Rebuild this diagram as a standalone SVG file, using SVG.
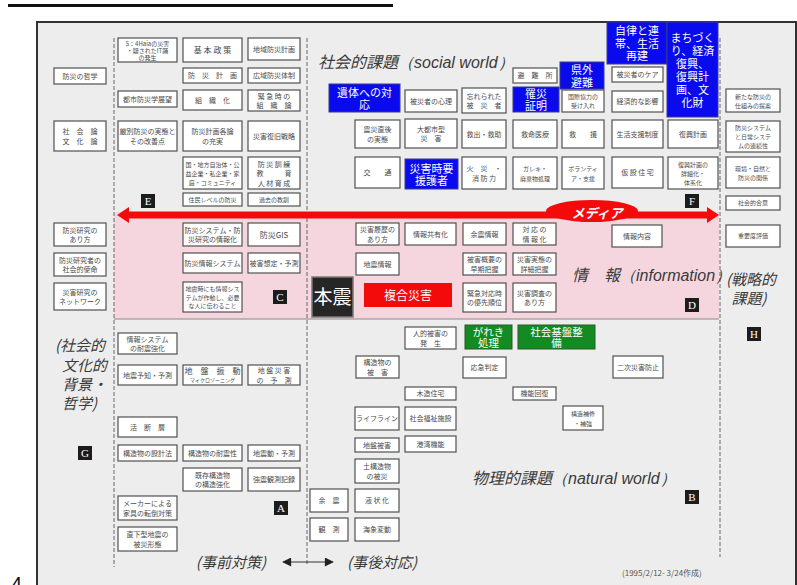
<svg xmlns="http://www.w3.org/2000/svg" width="797" height="585" viewBox="0 0 797 585">
<style>
.b{fill:#fff;stroke:#505050;stroke-width:1.2}
.t{font-family:"Noto Sans CJK JP",sans-serif;font-size:7px;fill:#4a4a4a;text-anchor:middle}
.s{font-size:6px}
.m{font-size:8px}
.bl{fill:#0a0aee;stroke:#3a3a8a;stroke-width:1}
.gr{fill:#138a22;stroke:#2a5a2a;stroke-width:1}
.w{font-family:"Noto Sans CJK JP",sans-serif;font-size:11px;fill:#fff;text-anchor:middle}
.lb{fill:#1c1c1c}
.lt{font-family:"Liberation Serif",serif;font-size:11px;fill:#fff;text-anchor:middle}
.ti{font-family:"Noto Sans CJK JP",sans-serif;font-size:16px;font-style:italic;fill:#3a3a3a}
.en{font-family:"Liberation Sans",sans-serif;font-style:italic}
.dl{stroke:#666;stroke-width:1;stroke-dasharray:4 2;fill:none}
</style>
<defs>
<marker id="ah" viewBox="0 0 10 10" refX="9" refY="5" markerWidth="11" markerHeight="9" markerUnits="userSpaceOnUse" orient="auto-start-reverse"><path d="M0,0L10,5L0,10z" fill="#222"/></marker>
</defs>
<rect x="0" y="0" width="797" height="585" fill="#fff"/>
<rect x="8" y="4" width="385" height="3" fill="#111"/>
<rect x="37" y="22" width="759" height="575" fill="#ededed" stroke="#333" stroke-width="2"/>
<rect x="114" y="212" width="605" height="107" fill="#f6d6de"/>
<line x1="114" y1="319" x2="719" y2="319" stroke="#8a8a8a" stroke-width="1.2"/>
<line class="dl" x1="114" y1="38" x2="114" y2="567"/>
<line class="dl" x1="307" y1="38" x2="307" y2="566"/>
<line class="dl" x1="720" y1="38" x2="720" y2="557"/>
<text x="11" y="591" font-family="Liberation Sans,sans-serif" font-size="20" fill="#111">4</text>

<text class="ti" x="318" y="68">社会的課題<tspan class="en">（social world）</tspan></text>
<text class="ti" x="572" y="281">情　報<tspan class="en">（information）</tspan></text>
<text class="ti" x="472" y="484">物理的課題<tspan class="en">（natural world）</tspan></text>
<text class="ti" style="font-size:15px;text-anchor:middle"><tspan x="751" y="285">(戦略的</tspan><tspan x="749" y="304">課題)</tspan></text>
<text class="ti" style="font-size:15px"><tspan x="55" y="351">(社会的</tspan><tspan x="62" y="371">文化的</tspan><tspan x="62" y="390">背景・</tspan><tspan x="62" y="409">哲学)</tspan></text>
<text class="ti" style="font-size:15px;text-anchor:end" x="266" y="568">(事前対策)</text>
<text class="ti" style="font-size:15px" x="347" y="568">(事後対応)</text>
<text x="622" y="576" font-family="Noto Sans CJK JP,sans-serif" font-size="8" fill="#555">(1995/2/12- 3/24作成)</text>

<g id="connectors">
<path d="M117,215 L129,207 L129,211.5 L707,211.5 L707,207 L719,215 L707,223 L707,218.5 L129,218.5 L129,223 Z" fill="#f30a0a"/>
<ellipse cx="592" cy="211" rx="46" ry="11" fill="#f30a0a"/>
<text x="597" y="218" font-family="Noto Sans CJK JP,sans-serif" font-size="13" font-weight="bold" font-style="italic" fill="#fff" text-anchor="middle">メディア</text>
<line x1="283" y1="562" x2="333" y2="562" stroke="#333" stroke-width="1" marker-start="url(#ah)" marker-end="url(#ah)"/>
</g>

<!-- left column -->
<g id="n1"><rect class="b" x="54" y="68" width="52" height="16"/><text class="t" x="80" y="78.7">防災の哲学</text></g>
<g id="n2"><rect class="b" x="54" y="121" width="52" height="30"/><text class="t"><tspan x="80" y="134">社　会　論</tspan><tspan x="80" y="144">文　化　論</tspan></text></g>
<g id="n3"><rect class="b" x="54" y="223" width="52" height="23"/><text class="t"><tspan x="80" y="232.5">防災研究の</tspan><tspan x="80" y="242">あり方</tspan></text></g>
<g id="n4"><rect class="b" x="54" y="253" width="52" height="23"/><text class="t"><tspan x="80" y="262.5">防災研究者の</tspan><tspan x="80" y="272">社会的使命</tspan></text></g>
<g id="n5"><rect class="b" x="54" y="283" width="52" height="27"/><text class="t"><tspan x="80" y="294.5">災害研究の</tspan><tspan x="80" y="304">ネットワーク</tspan></text></g>

<!-- col 1 -->
<g id="c1a"><rect class="b" x="118" y="38" width="59" height="24"/><text class="t s"><tspan x="147.5" y="45.5">5：4Haiaの災害</tspan><tspan x="147.5" y="52.5">・疑されたIT踊</tspan><tspan x="147.5" y="59.5">の発生</tspan></text></g>
<g id="c1b"><rect class="b" x="118" y="91" width="59" height="16"/><text class="t" x="147.5" y="101.7">都市防災学展望</text></g>
<g id="c1c"><rect class="b" x="118" y="121" width="59" height="30"/><text class="t"><tspan x="147.5" y="134">厳別防災の実態と</tspan><tspan x="147.5" y="143.5">その改善点</tspan></text></g>
<g id="c1d"><rect class="b" x="118" y="333" width="59" height="21"/><text class="t"><tspan x="147.5" y="341.5">情報システム</tspan><tspan x="147.5" y="351">の耐震強化</tspan></text></g>
<g id="c1e"><rect class="b" x="118" y="365" width="59" height="20"/><text class="t" x="147.5" y="377.7">地震予知・予測</text></g>
<g id="c1f"><rect class="b" x="118" y="417" width="59" height="20"/><text class="t" x="147.5" y="429.7">活　断　層</text></g>
<g id="c1g"><rect class="b" x="118" y="445" width="59" height="16"/><text class="t" x="147.5" y="455.7">構造物の設計法</text></g>
<g id="c1h"><rect class="b" x="118" y="496" width="59" height="24"/><text class="t"><tspan x="147.5" y="506">メーカーによる</tspan><tspan x="147.5" y="515.5">家具の転倒対策</tspan></text></g>
<g id="c1i"><rect class="b" x="118" y="527" width="59" height="24"/><text class="t"><tspan x="147.5" y="537">直下型地震の</tspan><tspan x="147.5" y="546.5">被災形態</tspan></text></g>

<!-- col 2 -->
<g id="c2a"><rect class="b" x="183" y="38" width="59" height="24"/><text class="t m" x="212.5" y="52.7">基 本 政 策</text></g>
<g id="c2b"><rect class="b" x="183" y="68" width="59" height="15"/><text class="t" x="212.5" y="78.2">防　災　計　画</text></g>
<g id="c2c"><rect class="b" x="183" y="90" width="59" height="20"/><text class="t" x="212.5" y="102.7">組　織　化</text></g>
<g id="c2d"><rect class="b" x="183" y="121" width="59" height="30"/><text class="t"><tspan x="212.5" y="134">防災計画各論</tspan><tspan x="212.5" y="143.5">の充実</tspan></text></g>
<g id="c2e"><rect class="b" x="183" y="157" width="59" height="32"/><text class="t s"><tspan x="212.5" y="166.5">国・地方自治体・公</tspan><tspan x="212.5" y="175.5">益企業・私企業・家</tspan><tspan x="212.5" y="184.5">庭・コミュニティ</tspan></text></g>
<g id="c2f"><rect class="b" x="183" y="193" width="59" height="13"/><text class="t s" x="212.5" y="201.8">住民レベルの防災</text></g>
<g id="c2g"><rect class="b" x="183" y="223" width="59" height="23"/><text class="t"><tspan x="212.5" y="232.5">防災システム・防</tspan><tspan x="212.5" y="242">災研究の情報化</tspan></text></g>
<g id="c2h"><rect class="b" x="183" y="253" width="59" height="20"/><text class="t" x="212.5" y="265.7">防災情報システム</text></g>
<g id="c2i"><rect class="b" x="183" y="282" width="59" height="30"/><text class="t s"><tspan x="212.5" y="291">地震時にも情報シス</tspan><tspan x="212.5" y="299.5">テムが作動し、必要</tspan><tspan x="212.5" y="308">な人に伝わること</tspan></text></g>
<g id="c2j"><rect class="b" x="183" y="365" width="59" height="20"/><text class="t"><tspan class="m" x="212.5" y="374">地　盤　振　動</tspan><tspan style="font-size:5px" x="212.5" y="382">マイクロゾーニング</tspan></text></g>
<g id="c2k"><rect class="b" x="183" y="445" width="59" height="16"/><text class="t" x="212.5" y="455.7">構造物の耐震性</text></g>
<g id="c2l"><rect class="b" x="183" y="468" width="59" height="23"/><text class="t"><tspan x="212.5" y="477.5">既存構造物</tspan><tspan x="212.5" y="487">の構造強化</tspan></text></g>

<!-- col 3 -->
<g id="c3a"><rect class="b" x="248" y="38" width="52" height="22"/><text class="t" x="274" y="51.7">地域防災計画</text></g>
<g id="c3b"><rect class="b" x="248" y="68" width="52" height="15"/><text class="t" x="274" y="78.2">広域防災体制</text></g>
<g id="c3c"><rect class="b" x="248" y="90" width="52" height="21"/><text class="t"><tspan x="274" y="98.5">緊 急 時 の</tspan><tspan x="274" y="108">組　織　論</tspan></text></g>
<g id="c3d"><rect class="b" x="248" y="121" width="52" height="30"/><text class="t" x="274" y="138.7">災害復旧戦略</text></g>
<g id="c3e"><rect class="b" x="248" y="157" width="52" height="32"/><text class="t"><tspan x="274" y="166.5">防 災 訓 練</tspan><tspan x="274" y="176">教　　　育</tspan><tspan x="274" y="185.5">人 材 育 成</tspan></text></g>
<g id="c3f"><rect class="b" x="248" y="193" width="52" height="13"/><text class="t s" x="274" y="201.8">過去の教訓</text></g>
<g id="c3g"><rect class="b" x="248" y="223" width="52" height="23"/><text class="t m" x="274" y="237.5">防災GIS</text></g>
<g id="c3h"><rect class="b" x="248" y="253" width="52" height="20"/><text class="t" x="274" y="265.7">被害想定・予測</text></g>
<g id="c3i"><rect class="b" x="248" y="365" width="52" height="20"/><text class="t"><tspan x="274" y="373">地 盤 災 害</tspan><tspan x="274" y="382.5">の　予　測</tspan></text></g>
<g id="c3j"><rect class="b" x="248" y="445" width="52" height="16"/><text class="t" x="274" y="455.7">地震動・予測</text></g>
<g id="c3k"><rect class="b" x="248" y="468" width="52" height="23"/><text class="t" x="274" y="482.2">強震観測記録</text></g>

<!-- social world -->
<g id="s1"><rect class="bl" x="329" y="84" width="71" height="28"/><text class="w"><tspan x="364.5" y="96.5">遺体への対</tspan><tspan x="364.5" y="109">応</tspan></text></g>
<g id="s2"><rect class="b" x="405" y="90" width="52" height="22"/><text class="t" x="431" y="103.7">被災者の心理</text></g>
<g id="s3"><rect class="b" x="462" y="88" width="44" height="25"/><text class="t"><tspan x="484" y="98.5">忘れられた</tspan><tspan x="484" y="108">被　災　者</tspan></text></g>
<g id="s4"><rect class="b" x="513" y="68" width="44" height="15"/><text class="t" x="535" y="78.2">避　難　所</text></g>
<g id="s5"><rect class="bl" x="513" y="87" width="46" height="25"/><text class="w"><tspan x="536" y="98">罹災</tspan><tspan x="536" y="110">証明</tspan></text></g>
<g id="s6"><rect class="bl" x="560" y="62" width="44" height="27"/><text class="w"><tspan x="582" y="74">県外</tspan><tspan x="582" y="86.5">避難</tspan></text></g>
<g id="s7"><rect class="b" x="562" y="90" width="42" height="22"/><text class="t s"><tspan x="583" y="99">国際協力の</tspan><tspan x="583" y="108">受け入れ</tspan></text></g>
<g id="s8"><rect class="bl" x="607" y="22" width="60" height="42"/><text class="w"><tspan x="637" y="35">自律と連</tspan><tspan x="637" y="47.5">帯、生活</tspan><tspan x="637" y="60">再建</tspan></text></g>
<g id="s9"><rect class="b" x="612" y="67" width="51" height="15"/><text class="t" x="637.5" y="77.2">被災者のケア</text></g>
<g id="s10"><rect class="b" x="612" y="91" width="51" height="21"/><text class="t" x="637.5" y="104.2">経済的な影響</text></g>
<g id="s11"><rect class="bl" x="667" y="22" width="51" height="95"/><text class="w"><tspan x="692.5" y="42">まちづく</tspan><tspan x="692.5" y="55">り、経済</tspan><tspan x="692.5" y="68">復興、</tspan><tspan x="692.5" y="81">復興計</tspan><tspan x="692.5" y="94">画、文</tspan><tspan x="692.5" y="107">化財</tspan></text></g>
<g id="s12"><rect class="b" x="355" y="120" width="45" height="28"/><text class="t"><tspan x="377.5" y="132">震災直後</tspan><tspan x="377.5" y="141.5">の実態</tspan></text></g>
<g id="s13"><rect class="b" x="405" y="119" width="52" height="29"/><text class="t"><tspan x="431" y="131.5">大都市型</tspan><tspan x="431" y="141">災　害</tspan></text></g>
<g id="s14"><rect class="b" x="462" y="120" width="44" height="28"/><text class="t" x="484" y="136.7">救出・救助</text></g>
<g id="s15"><rect class="b" x="513" y="120" width="44" height="28"/><text class="t" x="535" y="136.7">救命医療</text></g>
<g id="s16"><rect class="b" x="562" y="120" width="42" height="28"/><text class="t" x="583" y="136.7">救　　援</text></g>
<g id="s17"><rect class="b" x="612" y="120" width="51" height="28"/><text class="t" x="637.5" y="136.7">生活支援制度</text></g>
<g id="s18"><rect class="b" x="668" y="120" width="50" height="28"/><text class="t" x="693" y="136.7">復興計画</text></g>
<g id="s19"><rect class="b" x="355" y="157" width="45" height="31"/><text class="t" x="377.5" y="175.2">交　　通</text></g>
<g id="s20"><rect class="bl" x="405" y="159" width="53" height="30"/><text class="w"><tspan x="431.5" y="172.5">災害時要</tspan><tspan x="431.5" y="185">援護者</tspan></text></g>
<g id="s21"><rect class="b" x="462" y="157" width="44" height="32"/><text class="t"><tspan x="484" y="171">火　災　・</tspan><tspan x="484" y="180.5">消 防 力</tspan></text></g>
<g id="s22"><rect class="b" x="513" y="157" width="44" height="32"/><text class="t s"><tspan x="535" y="171">ガレキ・</tspan><tspan x="535" y="180.5">廃棄物処理</tspan></text></g>
<g id="s23"><rect class="b" x="562" y="157" width="42" height="32"/><text class="t s"><tspan x="583" y="171">ボランティ</tspan><tspan x="583" y="180.5">ア・支援</tspan></text></g>
<g id="s24"><rect class="b" x="612" y="157" width="51" height="31"/><text class="t" x="637.5" y="175.2">仮 設 住 宅</text></g>
<g id="s25"><rect class="b" x="668" y="157" width="50" height="32"/><text class="t s"><tspan x="693" y="166.5">復興計画の</tspan><tspan x="693" y="175.5">詳細化・</tspan><tspan x="693" y="184.5">体系化</tspan></text></g>

<!-- strategic column -->
<g id="r1"><rect class="b" x="726" y="89" width="54" height="23"/><text class="t s"><tspan x="753" y="98.5">新たな防災の</tspan><tspan x="753" y="107.5">仕組みの提案</tspan></text></g>
<g id="r2"><rect class="b" x="726" y="121" width="54" height="31"/><text class="t s"><tspan x="753" y="130">防災システム</tspan><tspan x="753" y="139">と日常システ</tspan><tspan x="753" y="148">ムの連続性</tspan></text></g>
<g id="r3"><rect class="b" x="726" y="157" width="54" height="31"/><text class="t s"><tspan x="753" y="170.5">環境・自然と</tspan><tspan x="753" y="179.5">防災の関係</tspan></text></g>
<g id="r4"><rect class="b" x="726" y="196" width="54" height="14"/><text class="t s" x="753" y="205.2">社会的合意</text></g>
<g id="r5"><rect class="b" x="726" y="225" width="54" height="22"/><text class="t s" x="753" y="238.2">重要度評価</text></g>

<!-- information -->
<g id="i1"><rect class="b" x="356" y="223" width="43" height="22"/><text class="t"><tspan x="377.5" y="232">災害履歴の</tspan><tspan x="377.5" y="241.5">あり方</tspan></text></g>
<g id="i2"><rect class="b" x="405" y="223" width="51" height="22"/><text class="t" x="430.5" y="236.7">情報共有化</text></g>
<g id="i3"><rect class="b" x="463" y="223" width="43" height="22"/><text class="t" x="484.5" y="236.7">余震情報</text></g>
<g id="i4"><rect class="b" x="513" y="223" width="43" height="22"/><text class="t"><tspan x="534.5" y="232">対 応 の</tspan><tspan x="534.5" y="241.5">情 報 化</tspan></text></g>
<g id="i5"><rect class="b" x="612" y="225" width="50" height="22"/><text class="t" x="637" y="238.7">情報内容</text></g>
<g id="i6"><rect class="b" x="356" y="253" width="43" height="22"/><text class="t" x="377.5" y="266.7">地震情報</text></g>
<g id="i7"><rect class="b" x="463" y="253" width="43" height="22"/><text class="t"><tspan x="484.5" y="262">被害概要の</tspan><tspan x="484.5" y="271.5">早期把握</tspan></text></g>
<g id="i8"><rect class="b" x="513" y="253" width="43" height="22"/><text class="t"><tspan x="534.5" y="262">災害実態の</tspan><tspan x="534.5" y="271.5">詳細把握</tspan></text></g>
<g id="i9"><rect x="312" y="277" width="41" height="40" fill="#262626" stroke="#7a7a7a" stroke-width="1.5"/><text class="w" style="font-size:19px" x="332.5" y="304">本震</text></g>
<g id="i10"><rect x="364" y="283" width="88" height="24" fill="#f30a0a"/><text class="w" style="font-size:12px" x="408" y="299.5">複合災害</text></g>
<g id="i11"><rect class="b" x="463" y="283" width="43" height="29"/><text class="t"><tspan x="484.5" y="295.5">緊急対応時</tspan><tspan x="484.5" y="305">の優先順位</tspan></text></g>
<g id="i12"><rect class="b" x="513" y="283" width="43" height="29"/><text class="t"><tspan x="534.5" y="295.5">災害調査の</tspan><tspan x="534.5" y="305">あり方</tspan></text></g>

<!-- natural world -->
<g id="p1"><rect class="b" x="405" y="327" width="51" height="22"/><text class="t"><tspan x="430.5" y="336">人的被害の</tspan><tspan x="430.5" y="345.5">発　生</tspan></text></g>
<g id="p2"><rect class="gr" x="465" y="325" width="47" height="24"/><text class="w" style="font-size:10.5px"><tspan x="488.5" y="335.5">がれき</tspan><tspan x="488.5" y="347">処理</tspan></text></g>
<g id="p3"><rect class="gr" x="518" y="325" width="77" height="24"/><text class="w" style="font-size:10.5px"><tspan x="556.5" y="335.5">社会基盤整</tspan><tspan x="556.5" y="347">備</tspan></text></g>
<g id="p4"><rect class="b" x="356" y="356" width="43" height="22"/><text class="t"><tspan x="377.5" y="365">構造物の</tspan><tspan x="377.5" y="374.5">被　害</tspan></text></g>
<g id="p5"><rect class="b" x="463" y="357" width="43" height="21"/><text class="t" x="484.5" y="370.2">応急判定</text></g>
<g id="p6"><rect class="b" x="613" y="356" width="50" height="22"/><text class="t" x="638" y="369.7">二次災害防止</text></g>
<g id="p7"><rect class="b" x="405" y="387" width="51" height="13"/><text class="t" x="430.5" y="396.2">木造住宅</text></g>
<g id="p8"><rect class="b" x="513" y="387" width="43" height="13"/><text class="t" x="534.5" y="396.2">機能回復</text></g>
<g id="p9"><rect class="b" x="355" y="407" width="44" height="23"/><text class="t" x="377" y="421.2">ライフライン</text></g>
<g id="p10"><rect class="b" x="405" y="407" width="51" height="23"/><text class="t" x="430.5" y="421.2">社会福祉施設</text></g>
<g id="p11"><rect class="b" x="563" y="406" width="40" height="24"/><text class="t s"><tspan x="583" y="416">構造補修</tspan><tspan x="583" y="425.5">・補強</tspan></text></g>
<g id="p12"><rect class="b" x="355" y="438" width="44" height="14"/><text class="t" x="377" y="447.5">地盤被害</text></g>
<g id="p13"><rect class="b" x="405" y="436" width="51" height="16"/><text class="t" x="430.5" y="446.7">港湾機能</text></g>
<g id="p14"><rect class="b" x="355" y="459" width="44" height="24"/><text class="t"><tspan x="377" y="469">土構造物</tspan><tspan x="377" y="478.5">の被災</tspan></text></g>
<g id="p15"><rect class="b" x="310" y="489" width="38" height="23"/><text class="t" x="329" y="503.2">余　震</text></g>
<g id="p16"><rect class="b" x="355" y="489" width="44" height="23"/><text class="t" x="377" y="503.2">液 状 化</text></g>
<g id="p17"><rect class="b" x="310" y="518" width="38" height="23"/><text class="t" x="329" y="532.2">観　測</text></g>
<g id="p18"><rect class="b" x="355" y="518" width="44" height="23"/><text class="t" x="377" y="532.2">海象変動</text></g>

<!-- region labels -->
<g id="lA"><rect class="lb" x="274" y="501" width="14" height="14"/><text class="lt" x="281" y="512">A</text></g>
<g id="lB"><rect class="lb" x="685" y="490" width="14" height="14"/><text class="lt" x="692" y="501">B</text></g>
<g id="lC"><rect class="lb" x="273" y="290" width="14" height="14"/><text class="lt" x="280" y="301">C</text></g>
<g id="lD"><rect class="lb" x="685" y="298" width="14" height="14"/><text class="lt" x="692" y="309">D</text></g>
<g id="lE"><rect class="lb" x="141" y="194" width="14" height="14"/><text class="lt" x="148" y="205">E</text></g>
<g id="lF"><rect class="lb" x="685" y="194" width="14" height="14"/><text class="lt" x="692" y="205">F</text></g>
<g id="lG"><rect class="lb" x="78" y="446" width="14" height="14"/><text class="lt" x="85" y="457">G</text></g>
<g id="lH"><rect class="lb" x="747" y="327" width="14" height="14"/><text class="lt" x="754" y="338">H</text></g>
</svg>
